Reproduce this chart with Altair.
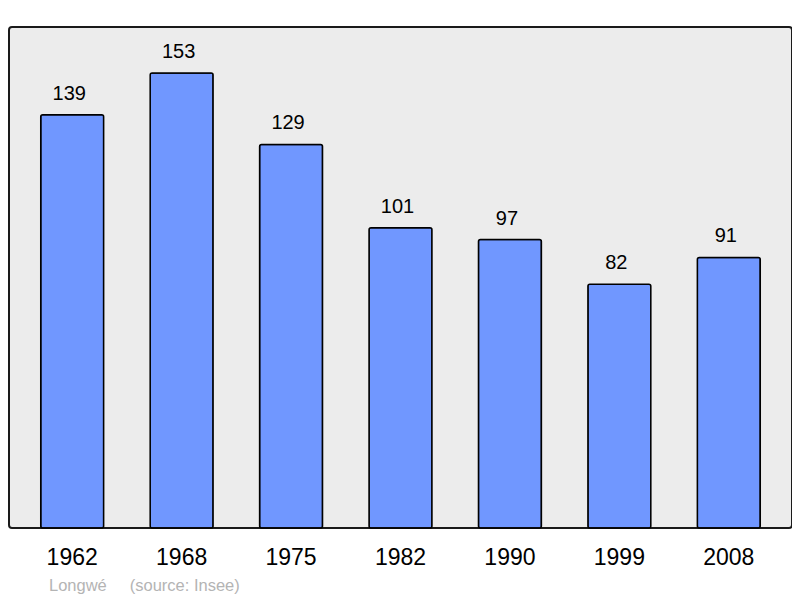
import altair as alt
import pandas as pd

years = ["1962", "1968", "1975", "1982", "1990", "1999", "2008"]
population = [139, 153, 129, 101, 97, 82, 91]

df = pd.DataFrame({"year": years, "pop": population})

x = alt.X("year:N", sort=years,
          scale=alt.Scale(paddingInner=0.425, paddingOuter=0.29),
          axis=alt.Axis(title=None, labelAngle=0, ticks=False, domain=False,
                        labelFontSize=23, labelFont="Liberation Sans",
                        labelColor="#000000", labelPadding=18))
y = alt.Y("pop:Q", scale=alt.Scale(domain=[0, 168.5], nice=False, zero=True),
          axis=None)

bars = alt.Chart(df).mark_bar(
    color="#7097ff", stroke="#000000", strokeWidth=1.5, cornerRadius=2
).encode(x=x, y=y)

labels = alt.Chart(df).mark_text(
    baseline="alphabetic", dy=-15, dx=-3, fontSize=20, font="Liberation Sans",
    color="#000000"
).encode(x=x, y=y, text="pop:Q")

chart = (bars + labels).properties(
    width=783, height=501,
    autosize=alt.AutoSizeParams(type="none"),
    padding={"left": 1, "top": 19, "right": 0, "bottom": 70},
    title=alt.TitleParams(
        "Longwé\u00a0\u00a0\u00a0\u00a0\u00a0(source: Insee)",
        orient="bottom", anchor="start", dx=40, offset=9,
        fontSize=16.5, font="Liberation Sans", fontWeight="normal",
        color="#b4b4b4"
    )
).configure_view(
    fill="#ececec", stroke="#1a1a1a", strokeWidth=2, cornerRadius=3
)

chart.save("out.html", embed_options={"renderer": "svg", "actions": False})
